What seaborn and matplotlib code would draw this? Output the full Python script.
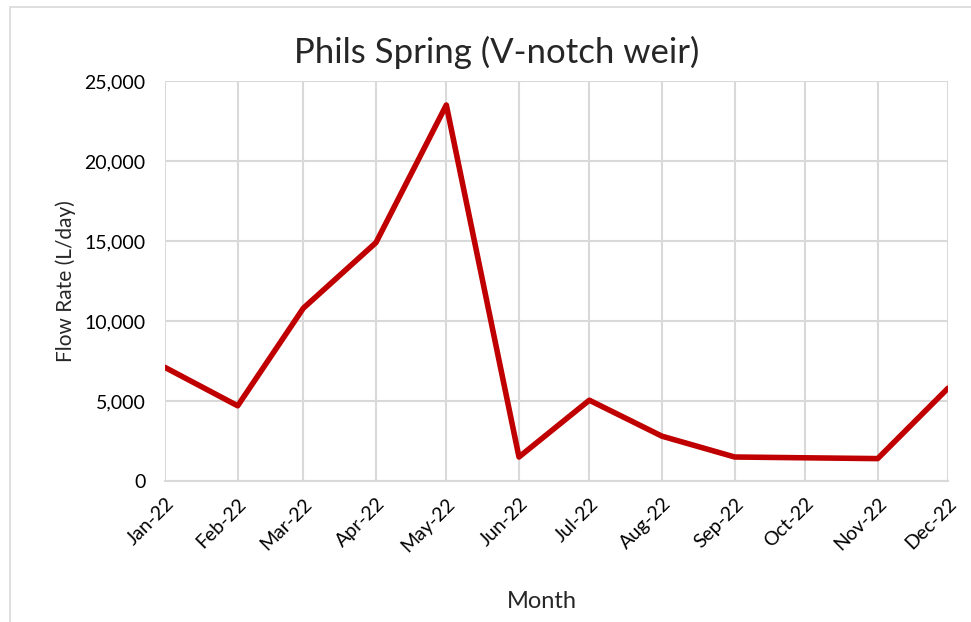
import pandas as pd
import matplotlib.pyplot as plt
import matplotlib.dates as mdates
from matplotlib.patches import Rectangle
import seaborn as sns

# monthly readings, first of each month
months = ["2022-01-01", "2022-02-01", "2022-03-01", "2022-04-01", "2022-05-01", "2022-06-01",
          "2022-07-01", "2022-08-01", "2022-09-01", "2022-10-01", "2022-11-01", "2022-12-01"]
flow = [7100, 4700, 10800, 14900, 23500, 1500, 5050, 2800, 1500, 1450, 1400, 5800]
y_ticks = [0, 5000, 10000, 15000, 20000, 25000]

df = pd.DataFrame({"Month": pd.to_datetime(months), "Flow": flow})

sns.set_style("white")
plt.rcParams["font.family"] = ["Lato", "DejaVu Sans"]

W, H = 971, 622
fig = plt.figure(figsize=(W / 100, H / 100), dpi=100)
ax = fig.add_axes([165 / W, 1 - 481 / H, (948 - 165) / W, 400 / H])

sns.lineplot(data=df, x="Month", y="Flow", color="#C00000", linewidth=4.0, ax=ax)

ax.set_xlim(df["Month"].iloc[0], df["Month"].iloc[-1])
ax.set_ylim(0, 25000)
ax.set_yticks(y_ticks)
ax.set_yticklabels([f"{v:,}" for v in y_ticks])
ax.set_xticks(df["Month"])
ax.xaxis.set_major_formatter(mdates.DateFormatter("%b-%y"))
plt.setp(ax.get_xticklabels(), rotation=45, ha="right", rotation_mode="anchor")

ax.grid(True, color="#D9D9D9", linewidth=1.5)
ax.set_axisbelow(True)
for s in ["top", "right", "left"]:
    ax.spines[s].set_visible(False)
ax.spines["bottom"].set_color("#D9D9D9")
ax.spines["bottom"].set_linewidth(1.5)
ax.tick_params(length=0, labelsize=14, colors="#000000")
ax.tick_params(axis="y", pad=14)
ax.tick_params(axis="x", pad=10)

ax.set_xlabel("Month", fontsize=17)
ax.xaxis.set_label_coords((542 - 165) / (948 - 165), -(601 - 481) / 400, transform=ax.transAxes)
ax.xaxis.label.set_va("center")
ax.set_ylabel("Flow Rate (L/day)", fontsize=15)
ax.yaxis.set_label_coords(-(165 - 66) / (948 - 165), (481 - 281) / 400, transform=ax.transAxes)
ax.yaxis.label.set_va("center")

fig.text(497 / W, 1 - 52 / H, "Phils Spring (V-notch weir)", fontsize=25, ha="center", va="center")

# chart frame
fig.patches.append(Rectangle((10 / W, -0.1), 1.2, 1 - 7 / H + 0.1, transform=fig.transFigure,
                             fill=False, edgecolor="#D9D9D9", linewidth=1.2))

fig.savefig("out.png", dpi=100)
